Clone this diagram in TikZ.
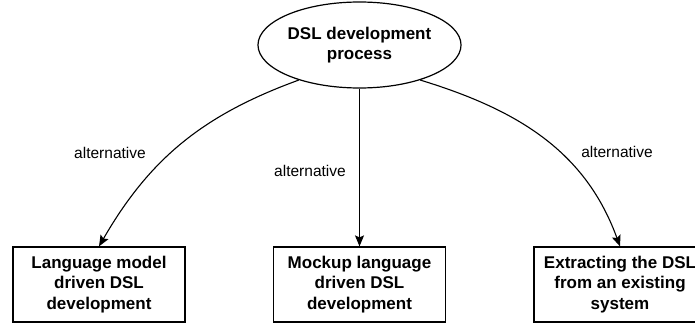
\documentclass[tikz,border=0pt]{standalone}
\usepackage{fontspec}
\setmainfont{Liberation Sans}
\usetikzlibrary{arrows.meta,shapes.geometric}
\tikzset{
  boxnode/.style={draw, line width=1.2pt, minimum width=172pt, minimum height=75pt, inner sep=0pt, align=center, font=\bfseries\fontsize{17}{20.5}\selectfont},
  ellnode/.style={draw, ellipse, line width=1.2pt, minimum width=171pt, minimum height=86pt, inner sep=0pt, align=center, font=\bfseries\fontsize{17}{20.5}\selectfont},
  lbl/.style={font=\fontsize{15.5}{18}\selectfont, inner sep=0pt},
  conn/.style={line width=1.1pt, -{Stealth[length=11pt,width=9pt,inset=2pt]}}
}
\begin{document}
\begin{tikzpicture}[x=1pt,y=1pt]
\clip (0,0) rectangle (695,-323);
\useasboundingbox (0,0) rectangle (695,-323);
\node[ellnode] (ell) at (359.5,-45) {DSL development\\process};
\node[boxnode] (lbox) at (99,-284.5) {Language model\\driven DSL\\development};
\node[boxnode] (mbox) at (359.5,-284.5) {Mockup language\\driven DSL\\development};
\node[boxnode] (rbox) at (620,-284.5) {Extracting the DSL\\from an existing\\system};
\draw[conn] (ell.210) to[out=200,in=60] (lbox.north);
\draw[conn] (ell.south) -- (mbox.north);
\draw[conn] (ell.330) to[out=-17,in=110] (rbox.north);
\node[lbl] (l1) at (110,-153) {alternative};
\node[lbl] (l2) at (310,-171) {alternative};
\node[lbl] (l3) at (617,-152) {alternative};
\end{tikzpicture}
\end{document}
